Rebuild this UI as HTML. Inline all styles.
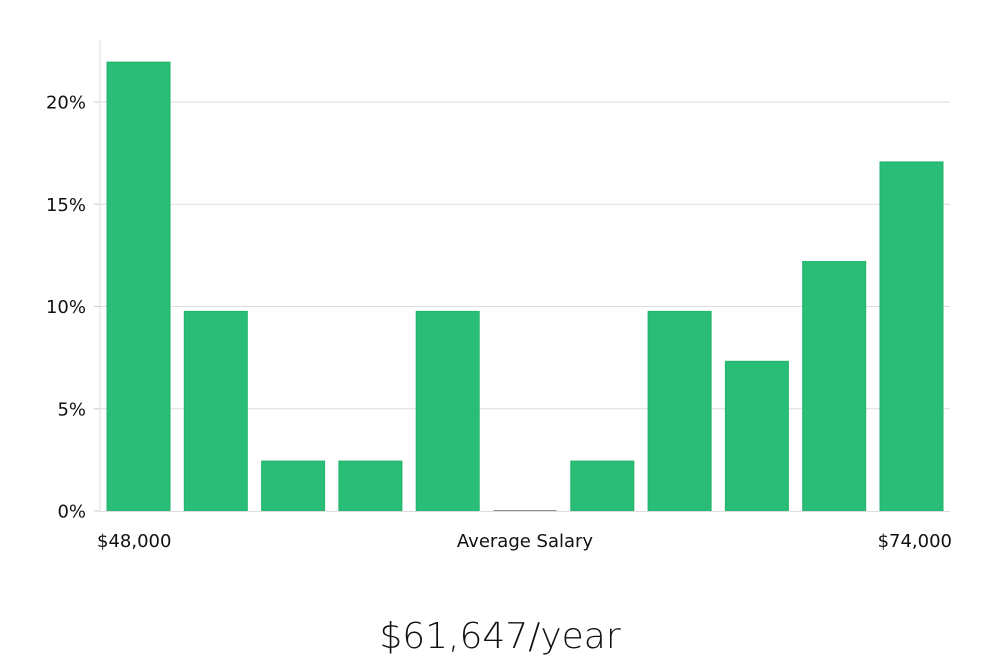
<!DOCTYPE html>
<html><head><meta charset="utf-8"><style>
body{margin:0;background:#fff;width:1000px;height:660px;overflow:hidden}
svg{display:block}
text{font-family:"DejaVu Sans","Liberation Sans",sans-serif;fill:#111}
</style></head><body>
<svg id="chart" width="1000" height="660">
<g id="grid"></g><g id="bars"></g><g id="ticks"></g>
<line x1="100" y1="40" x2="100" y2="511" stroke="#ddd" stroke-width="1"/>
<line x1="100" y1="511.5" x2="950" y2="511.5" stroke="#ddd" stroke-width="1"/>
<text x="97" y="547" font-size="18">$48,000</text>
<text x="525" y="547" font-size="18" text-anchor="middle">Average Salary</text>
<text x="952" y="547" font-size="18" text-anchor="end">$74,000</text>
<text x="500" y="648" font-size="36" font-weight="300" text-anchor="middle" style="font-family:'DejaVu Sans','Liberation Sans',sans-serif;font-weight:200">$61,647/year</text>
</svg>
<script>
const categories=[1,2,3,4,5,6,7,8,9,10,11];
const values=[21.95,9.76,2.44,2.44,9.76,0,2.44,9.76,7.32,12.2,17.07];
const tickValues=[0,5,10,15,20];
const tickLabels=["0%","5%","10%","15%","20%"];
const NS="http://www.w3.org/2000/svg";
const y0=511,pxPer=(511-102)/20;
const y=v=>y0-v*pxPer;
const xl=100,xr=950,step=(xr-xl)/categories.length*0.9995;
const x=i=>107+i*77.3;
const bw=63;
const grid=document.getElementById('grid'),ticks=document.getElementById('ticks'),bars=document.getElementById('bars');
tickValues.forEach((t,i)=>{
 if(t>0){const l=document.createElementNS(NS,'line');
 
 
 l.setAttribute('x1',xl);l.setAttribute('x2',xr);l.setAttribute('y1',y(t));l.setAttribute('y2',y(t));
 l.setAttribute('stroke','#ddd');grid.appendChild(l);}
 const tm=document.createElementNS(NS,'line');
 
 
 tm.setAttribute('x1',94);tm.setAttribute('x2',100);tm.setAttribute('y1',y(t));tm.setAttribute('y2',y(t));
 tm.setAttribute('stroke','#ccc');ticks.appendChild(tm);
 const tx=document.createElementNS(NS,'text');
 
 
 tx.setAttribute('x',86);tx.setAttribute('y',y(t)+6.5);tx.setAttribute('text-anchor','end');tx.setAttribute('font-size','18');
 tx.textContent=tickLabels[i];ticks.appendChild(tx);
});
categories.forEach((c,i)=>{
 const v=values[i];
 if(v>0){const r=document.createElementNS(NS,'rect');
 
 
 r.setAttribute('x',x(i));r.setAttribute('width',bw);r.setAttribute('y',y(v));r.setAttribute('height',y0-y(v));
 r.setAttribute('fill','#2abd77');r.setAttribute('stroke','#22b36c');r.setAttribute('stroke-width','1');bars.appendChild(r);}
 else{const l=document.createElementNS(NS,'line');
 
 
 l.setAttribute('x1',x(i));l.setAttribute('x2',x(i)+bw);l.setAttribute('y1',y0);l.setAttribute('y2',y0);
 l.setAttribute('stroke','#222');l.setAttribute('stroke-width','1');bars.appendChild(l);}
});
</script>
</body></html>
